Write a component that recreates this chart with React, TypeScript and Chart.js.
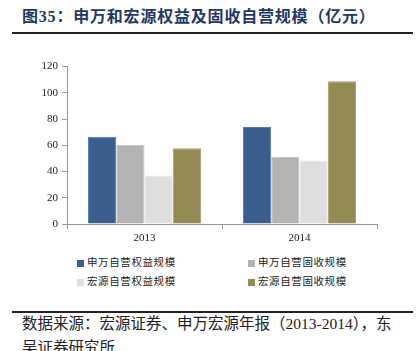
import React, { useEffect, useRef } from "react";
import { Chart, registerables } from "chart.js";
Chart.register(...registerables);

const categories = ["2013", "2014"];
const seriesNames = ["申万自营权益规模", "申万自营固收规模", "宏源自营权益规模", "宏源自营固收规模"];
const swEquity = [66.5, 74];
const swFixed = [60.3, 51];
const hyEquity = [37, 48.5];
const hyFixed = [57.8, 108.8];
const seriesColors = ["#3a5f8f", "#b3b3b3", "#dedede", "#948a54"];
const seriesBorders = ["#5578a6", "#c6c6c6", "#ececec", "#a69d6c"];
const yMin = 0;
const yMax = 120;
const yStep = 20;

const titleText = "图35：申万和宏源权益及固收自营规模（亿元）";
const sourceLine1 = "数据来源：宏源证券、申万宏源年报（2013-2014），东";
const sourceLine2 = "吴证券研究所";

const serif = "'Liberation Serif', 'Times New Roman', 'Noto Sans CJK SC', serif";
const cjk = "'Liberation Serif', 'Noto Sans CJK SC', serif";

export default function App() {
  const ref = useRef<HTMLCanvasElement | null>(null);
  useEffect(() => {
    if (!ref.current) return;
    const allValues = [swEquity, swFixed, hyEquity, hyFixed];
    const chart = new Chart(ref.current, {
      type: "bar",
      data: {
        labels: categories,
        datasets: allValues.map((vals, i) => ({
          label: seriesNames[i],
          data: vals,
          backgroundColor: seriesColors[i],
          borderColor: seriesBorders[i],
          borderWidth: 1,
          categoryPercentage: 0.73,
          barPercentage: 1.0,
        })),
      },
      options: {
        animation: false,
        responsive: false,
        maintainAspectRatio: false,
        layout: { padding: { top: 10, right: 40, left: 0, bottom: 0 } },
        plugins: { legend: { display: false }, tooltip: { enabled: false } },
        scales: {
          x: {
            grid: {
              display: true,
              drawOnChartArea: false,
              drawTicks: true,
              tickLength: 5,
              color: "#999999",
              offset: true,
            },
            border: { display: true, color: "#999999", width: 1 },
            ticks: { color: "#222", font: { family: serif, size: 11 }, padding: 3 },
            afterFit: (s: any) => {
              s.height = 22;
            },
          },
          y: {
            min: yMin,
            max: yMax,
            ticks: { stepSize: yStep, color: "#222", font: { family: serif, size: 11 }, padding: 4 },
            grid: {
              display: true,
              drawOnChartArea: false,
              drawTicks: true,
              tickLength: 5,
              color: "#999999",
            },
            border: { display: true, color: "#999999", width: 1 },
            afterFit: (s: any) => {
              s.width = 67;
            },
          },
        },
      },
    });
    return () => chart.destroy();
  }, []);

  const legendItem = (i: number, left: number, top: number) => (
    <div
      key={i}
      style={{
        position: "absolute",
        left,
        top,
        display: "flex",
        alignItems: "center",
        fontFamily: cjk,
        fontSize: 10.5,
        letterSpacing: 0.6,
        color: "#222",
        whiteSpace: "nowrap",
        lineHeight: "14px",
      }}
    >
      <span
        style={{
          display: "inline-block",
          width: 7,
          height: 7,
          background: seriesColors[i],
          marginRight: 3,
        }}
      />
      {seriesNames[i]}
    </div>
  );

  return (
    <div style={{ position: "absolute", left: 0, top: 0, width: 417, height: 351, background: "#fff", overflow: "hidden" }}>
      <div
        style={{
          position: "absolute",
          left: 22,
          top: 6,
          fontFamily: cjk,
          fontWeight: "bold",
          fontSize: 16,
          letterSpacing: 0.8,
          color: "#1f3864",
          whiteSpace: "nowrap",
          lineHeight: "22px",
        }}
      >
        {titleText}
      </div>
      <div style={{ position: "absolute", left: 12, top: 32, width: 401, height: 2, background: "#222" }} />
      <canvas ref={ref} width={417} height={190} style={{ position: "absolute", left: 0, top: 56, width: 417, height: 190 }} />
      {legendItem(0, 77, 256)}
      {legendItem(1, 248, 256)}
      {legendItem(2, 77, 275)}
      {legendItem(3, 248, 275)}
      <div style={{ position: "absolute", left: 12, top: 311, width: 401, height: 2, background: "#222" }} />
      <div
        style={{
          position: "absolute",
          left: 22,
          top: 312,
          fontFamily: cjk,
          fontSize: 15.5,
          color: "#222",
          whiteSpace: "nowrap",
          lineHeight: "24px",
        }}
      >
        <div>{sourceLine1}</div>
        <div>{sourceLine2}</div>
      </div>
    </div>
  );
}
